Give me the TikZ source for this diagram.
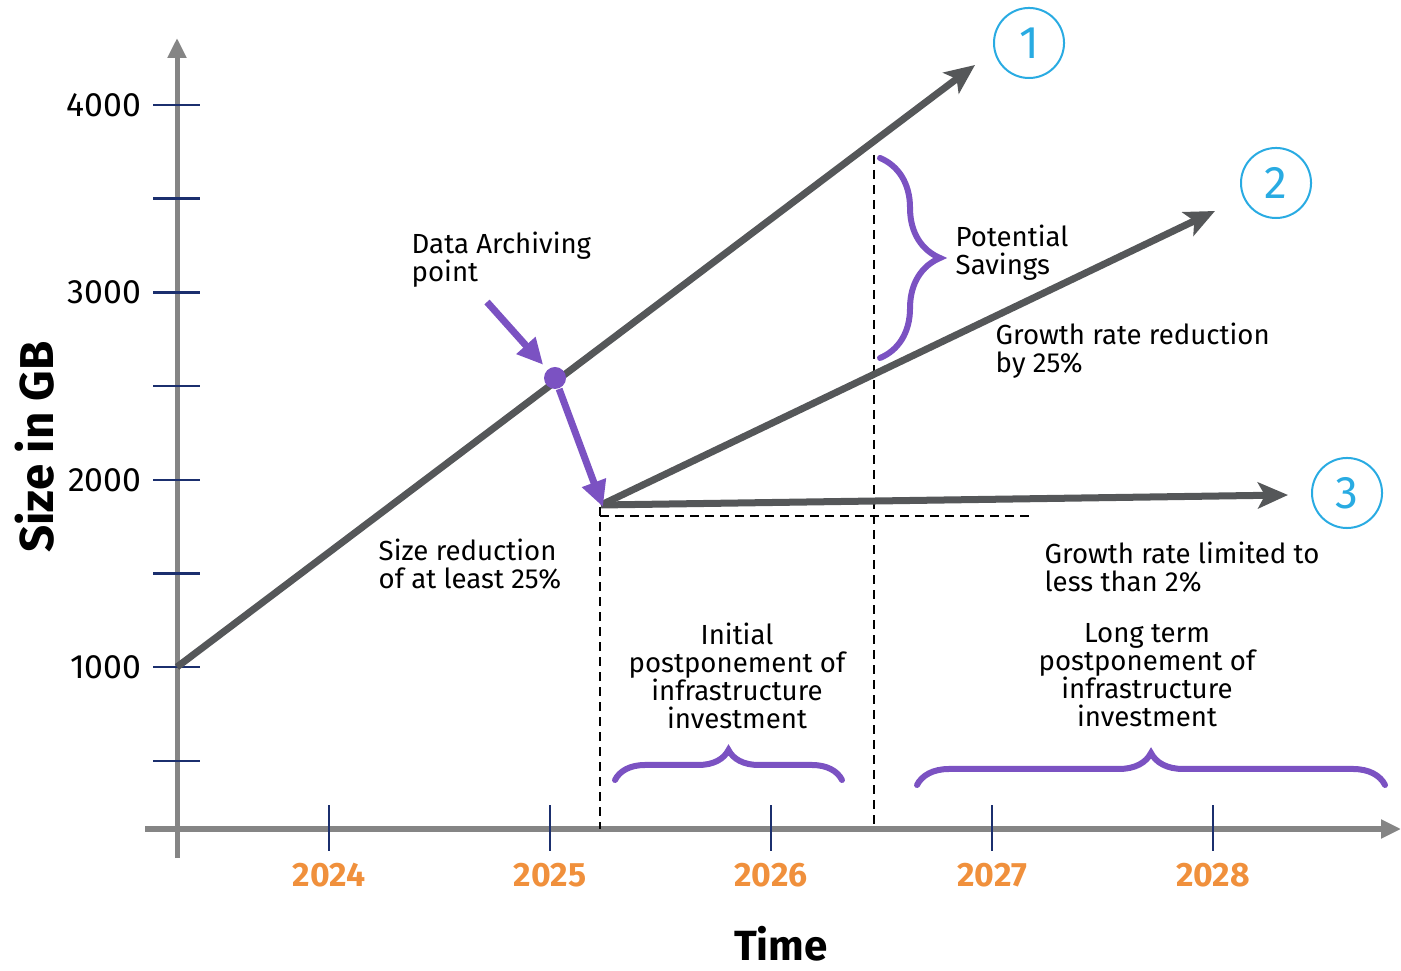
\documentclass[tikz,border=0pt]{standalone}
\usepackage{fontspec}
\setmainfont{Fira Sans}
\usetikzlibrary{arrows.meta}
\usetikzlibrary{decorations.pathreplacing}
\definecolor{trendgray}{HTML}{555759}
\definecolor{axisgray}{HTML}{858585}
\definecolor{ticknavy}{HTML}{1B2F6E}
\definecolor{yearorange}{HTML}{F0903C}
\definecolor{archpurple}{HTML}{7B52C2}
\definecolor{markcyan}{HTML}{29ABE2}
\newcommand\lblfont{\fontsize{7.85}{8}\selectfont}

\begin{document}
\begin{tikzpicture}[x=0.01cm,y=-0.01cm,
  axis/.style={draw=axisgray,line width=0.05cm,-{Triangle[length=0.2cm,width=0.18cm]}},
  tickmark/.style={draw=ticknavy,line width=0.025cm},
  trend/.style={draw=trendgray,line width=0.07cm,-{Stealth[length=0.3cm,width=0.26cm,inset=0.07cm]}},
  purplearrow/.style={draw=archpurple,line width=0.07cm,-{Triangle[length=0.26cm,width=0.24cm]}},
  guide/.style={draw=black,line width=0.025cm,dash pattern=on 0.09cm off 0.06cm},
  savebrace/.style={draw=archpurple,line width=0.06cm,line cap=round,decorate,decoration={brace,amplitude=#1}},
  marker/.style={circle,draw=markcyan,line width=0.02cm,minimum size=0.7cm,inner sep=0pt,text=markcyan,font=\fontsize{13}{13}\selectfont},
  note/.style={align=left,anchor=west,inner sep=0pt,font=\lblfont},
  block/.style={align=center,inner sep=0pt,font=\lblfont}]
\useasboundingbox (0,0) rectangle (1401,971);

% axes
\coordinate (ybot) at (177,858);
\coordinate (ytop) at (177,38);
\coordinate (xleft) at (145,829);
\coordinate (xright) at (1401,829);
\draw[axis] (ybot) -- (ytop);
\draw[axis] (xleft) -- (xright);
\foreach \k in {0,...,7}
  \draw[tickmark] (153,{105+93.7*\k}) -- (200,{105+93.7*\k});
\foreach \v/\k in {4000/0,3000/2,2000/4,1000/6}
  \node[anchor=east,inner sep=0pt,font=\fontsize{9.6}{9.6}\selectfont] (v\v) at (142,{105+93.7*\k}) {\v};
\foreach \yr [count=\i] in {2024,2025,2026,2027,2028}{
  \draw[tickmark] ({329+221*(\i-1)},805) -- ({329+221*(\i-1)},851);
  \node[text=yearorange,font=\bfseries\fontsize{9.6}{9.6}\selectfont] (yr\i) at ({329+221*(\i-1)},875) {\yr};
}
\node[inner sep=0pt,font=\bfseries\fontsize{12}{12}\selectfont] (timelbl) at (781,944) {Time};
\node[rotate=90,font=\bfseries\fontsize{13.5}{13.5}\selectfont] (sizelbl) at (35,447) {Size in GB};

% guide lines
\coordinate (g1top) at (600,507);
\coordinate (g1bot) at (600,829);
\coordinate (g2top) at (874,155);
\coordinate (g2bot) at (874,829);
\coordinate (hright) at (1035,516);
\coordinate (hleft) at (600,516);
\draw[guide] (g1top) -- (g1bot);
\draw[guide] (g2top) -- (g2bot);
\draw[guide] (hleft) -- (hright);

% trend lines
\coordinate (start) at (177,667);
\coordinate (cut) at (601,505);
\coordinate (end1) at (975,65);
\coordinate (end2) at (1215,211);
\coordinate (end3) at (1288,495);
\draw[trend] (start) -- (end1);
\draw[trend] (cut) -- (end2);
\draw[trend] (cut) -- (end3);

% archiving point
\node[circle,fill=archpurple,minimum size=0.22cm,inner sep=0pt] (arch) at (555,378) {};
\coordinate (ptr) at (487,302);
\coordinate (drop) at (603,507);
\draw[purplearrow,shorten >=0.06cm] (ptr) -- (arch);
\draw[purplearrow] (arch) -- (drop);

% markers
\node[marker] (m1) at (1029,43) {1};
\node[marker] (m2) at (1276,183) {2};
\node[marker] (m3) at (1347,493) {3};

% braces
\coordinate (sbtop) at (880,158);
\coordinate (sbbot) at (880,358);
\draw[savebrace=0.6cm] (sbtop) -- (sbbot);
\coordinate (b1l) at (615,780);
\coordinate (b1r) at (842,780);
\draw[savebrace=0.3cm] (b1l) -- (b1r);
\coordinate (b2l) at (917,785);
\coordinate (b2r) at (1385,785);
\draw[savebrace=0.32cm] (b2l) -- (b2r);

% texts
\node[note] (archlbl) at (411,260) {Data Archiving\\point};
\node[note] (savelbl) at (955,253) {Potential\\Savings};
\node[note] (ratelbl) at (995,351) {Growth rate reduction\\by 25\%};
\node[note] (redlbl) at (378,564) {Size reduction\\of at least 25\%};
\node[note] (limlbl) at (1044,567) {Growth rate limited to\\less than 2\%};
\node[block] (initlbl) at (737,676) {Initial\\postponement of\\infrastructure\\investment};
\node[block] (longlbl) at (1147,675) {Long term\\postponement of\\infrastructure\\investment};
\end{tikzpicture}
\end{document}
